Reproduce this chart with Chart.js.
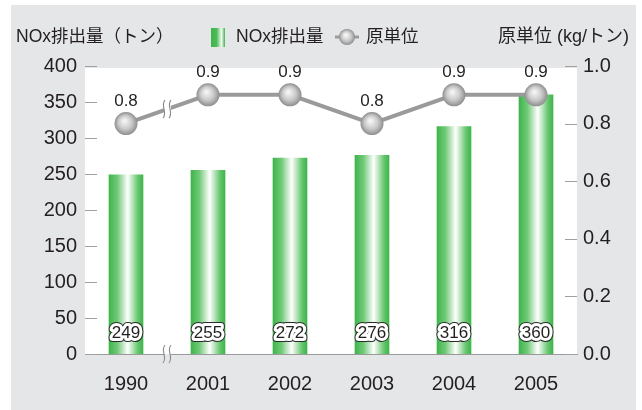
<!DOCTYPE html>
<html>
<head>
<meta charset="utf-8">
<script src="https://cdn.jsdelivr.net/npm/chart.js@4.4.0/dist/chart.umd.min.js"></script>
<style>
  html, body { margin: 0; padding: 0; background: #fff; }
  #wrap { width: 642px; height: 410px; }
</style>
</head>
<body>
<div id="wrap"><canvas id="myChart" width="642" height="410"></canvas></div>
<script>
// data
const years = ['1990', '2001', '2002', '2003', '2004', '2005'];
const noxValues = [249, 255, 272, 276, 316, 360];          // NOx排出量 (トン)
const intensityValues = [0.8, 0.9, 0.9, 0.8, 0.9, 0.9];     // 原単位 (kg/トン)
const leftTicks = [0, 50, 100, 150, 200, 250, 300, 350, 400];
const rightTicks = [0, 0.2, 0.4, 0.6, 0.8, 1.0];

const TEXT = '#231f20';
const BG = '#e5e6e8';
const LINE = '#9a9a9a';
const FONT = '"Liberation Sans", Arial, sans-serif';
const JP = '"Liberation Sans", "Noto Sans CJK JP", sans-serif';
const BAR_W = 34;

function barGradient(ctx, x, w) {
    const g = ctx.createLinearGradient(x - w / 2, 0, x + w / 2, 0);
    g.addColorStop(0, '#3db54b');
    g.addColorStop(0.25, '#72ca79');
    g.addColorStop(0.55, '#ffffff');
    g.addColorStop(0.85, '#66c66e');
    g.addColorStop(1, '#3db54b');
    return g;
}

function ballGradient(ctx, x, y, r) {
    const g = ctx.createRadialGradient(x - r * 0.15, y - r * 0.25, 1, x, y, r);
    g.addColorStop(0, '#f4f4f4');
    g.addColorStop(0.55, '#c9c9c9');
    g.addColorStop(1, '#8e8e8e');
    return g;
}

function breakMark(ctx, x, y, h, below) {
    ctx.save();
    ctx.fillStyle = '#fff';
    ctx.fillRect(x - 3, y - 3, 7, 6);
    if (below) {
        ctx.fillStyle = below;
        ctx.fillRect(x - 3, y, 7, 3);
    }
    ctx.strokeStyle = '#8a8a8a';
    ctx.lineWidth = 1.1;
    [-3, 3].forEach(dx => {
        ctx.beginPath();
        ctx.moveTo(x + dx + 1, y - h / 2);
        ctx.bezierCurveTo(x + dx - 4, y - h / 6, x + dx + 4, y + h / 6, x + dx - 1, y + h / 2);
        ctx.stroke();
    });
    ctx.restore();
}

const decor = {
    id: 'decor',
    beforeDraw(chart) {
        const { ctx, chartArea: a } = chart;
        ctx.save();
        ctx.fillStyle = '#fff';
        ctx.fillRect(0, 0, chart.width, chart.height);
        ctx.fillStyle = BG;
        ctx.fillRect(11, 5, 625, 405);
        ctx.fillStyle = '#fff';
        ctx.fillRect(a.left, a.top + 2, a.right - a.left, a.bottom - a.top - 2);
        ctx.restore();
    },
    beforeDatasetsDraw(chart) {
        const { ctx, chartArea: a, scales } = chart;
        ctx.save();
        ctx.strokeStyle = '#a0a0a0';
        ctx.lineWidth = 1;
        leftTicks.forEach(v => {
            const y = Math.round(scales.y.getPixelForValue(v)) + 0.5;
            ctx.beginPath(); ctx.moveTo(a.left, y); ctx.lineTo(a.left + 12, y); ctx.stroke();
        });
        rightTicks.forEach(v => {
            const y = Math.round(scales.y1.getPixelForValue(v)) + 0.5;
            ctx.beginPath(); ctx.moveTo(a.right - 12, y); ctx.lineTo(a.right, y); ctx.stroke();
        });
        ctx.restore();
    },
    afterDatasetsDraw(chart) {
        const { ctx, chartArea: a, scales } = chart;
        const x0 = scales.x.getPixelForValue(0), x1 = scales.x.getPixelForValue(1);
        const bx = (x0 + x1) / 2;
        const y0 = scales.y1.getPixelForValue(intensityValues[0]);
        const y1 = scales.y1.getPixelForValue(intensityValues[1]);
        const by = y0 + (y1 - y0) * (bx - x0) / (x1 - x0);
        breakMark(ctx, bx, by, 18);
        breakMark(ctx, bx, a.bottom, 18, BG);

        ctx.save();
        // bar value labels
        ctx.font = '17px ' + FONT;
        ctx.textAlign = 'center';
        ctx.textBaseline = 'middle';
        ctx.lineJoin = 'round';
        noxValues.forEach((v, i) => {
            const x = scales.x.getPixelForValue(i);
            const y = 333;
            ctx.lineWidth = 8; ctx.strokeStyle = '#2a2a2a';
            ctx.strokeText(String(v), x, y);
            ctx.lineWidth = 6; ctx.strokeStyle = '#fff';
            ctx.strokeText(String(v), x, y);
            ctx.fillStyle = TEXT;
            ctx.fillText(String(v), x, y);
        });
        // line value labels
        ctx.font = '17px ' + FONT;
        intensityValues.forEach((v, i) => {
            const x = scales.x.getPixelForValue(i);
            const y = scales.y1.getPixelForValue(v) - 22;
            ctx.fillStyle = TEXT;
            ctx.fillText(v.toFixed(1), x, y);
        });
        ctx.restore();
    },
    afterDraw(chart) {
        const { ctx } = chart;
        ctx.save();
        ctx.font = '17.5px ' + JP;
        ctx.fillStyle = TEXT;
        ctx.textBaseline = 'middle';
        ctx.textAlign = 'left';
        ctx.fillText('NOx排出量（トン）', 16, 37);
        ctx.font = '18px ' + JP;
        ctx.textAlign = 'right';
        ctx.fillText('原単位 (kg/トン)', 629, 37);
        // legend
        ctx.font = '17.5px ' + JP;
        ctx.textAlign = 'left';
        const lg = ctx.createLinearGradient(211, 0, 225, 0);
        lg.addColorStop(0, '#3db54b');
        lg.addColorStop(0.4, '#4dbb58');
        lg.addColorStop(0.75, '#f2fbf2');
        lg.addColorStop(1, '#3db54b');
        ctx.fillStyle = lg;
        ctx.fillRect(211, 28, 14, 19);
        ctx.fillStyle = TEXT;
        ctx.fillText('NOx排出量', 236, 37);
        ctx.strokeStyle = LINE;
        ctx.lineWidth = 3;
        ctx.beginPath(); ctx.moveTo(335, 37); ctx.lineTo(359, 37); ctx.stroke();
        ctx.fillStyle = ballGradient(ctx, 347, 37, 8);
        ctx.beginPath(); ctx.arc(347, 37, 8, 0, Math.PI * 2); ctx.fill();
        ctx.fillStyle = TEXT;
        ctx.fillText('原単位', 366, 37);
        ctx.restore();
    }
};

const chartRef = document.getElementById('myChart').getContext('2d');

new Chart(chartRef, {
    type: 'bar',
    data: {
        labels: years,
        datasets: [
            {
                type: 'line',
                label: '原単位',
                data: intensityValues,
                yAxisID: 'y1',
                order: 0,
                borderColor: LINE,
                borderWidth: 4,
                tension: 0,
                pointRadius: 11.5,
                pointBorderWidth: 0,
                pointBackgroundColor: c => {
                    const s = c.chart.scales;
                    if (!s.x || !s.y1 || c.dataIndex === undefined) return '#c0c0c0';
                    const x = s.x.getPixelForValue(c.dataIndex);
                    const y = s.y1.getPixelForValue(intensityValues[c.dataIndex]);
                    if (!isFinite(x) || !isFinite(y)) return '#c0c0c0';
                    return ballGradient(c.chart.ctx, x, y, 11.5);
                }
            },
            {
                type: 'bar',
                label: 'NOx排出量',
                data: noxValues,
                yAxisID: 'y',
                order: 1,
                barThickness: BAR_W,
                backgroundColor: c => {
                    const s = c.chart.scales;
                    if (!s.x || c.dataIndex === undefined) return '#3db54b';
                    const x = s.x.getPixelForValue(c.dataIndex);
                    if (!isFinite(x)) return '#3db54b';
                    return barGradient(c.chart.ctx, x, BAR_W);
                }
            }
        ]
    },
    options: {
        responsive: false,
        animation: false,
        layout: { padding: { top: 66, left: 0, right: 0, bottom: 0 } },
        plugins: { legend: { display: false }, tooltip: { enabled: false } },
        scales: {
            x: {
                grid: { display: false, drawTicks: false },
                border: { display: true, color: '#9a9a9a', width: 1 },
                ticks: { color: TEXT, font: { family: FONT, size: 20 }, padding: 18 },
                afterFit: s => { s.height = 56; }
            },
            y: {
                position: 'left',
                min: 0, max: 400,
                grid: { display: false, drawTicks: false },
                border: { display: false },
                ticks: { stepSize: 50, color: TEXT, font: { family: FONT, size: 20 }, padding: 8 },
                afterFit: s => { s.width = 85; }
            },
            y1: {
                position: 'right',
                min: 0, max: 1,
                grid: { display: false, drawTicks: false },
                border: { display: false },
                ticks: { stepSize: 0.2, color: TEXT, font: { family: FONT, size: 20 }, padding: 6,
                         callback: v => v.toFixed(1) },
                afterFit: s => { s.width = 65; }
            }
        }
    },
    plugins: [decor]
});
</script>
</body>
</html>
